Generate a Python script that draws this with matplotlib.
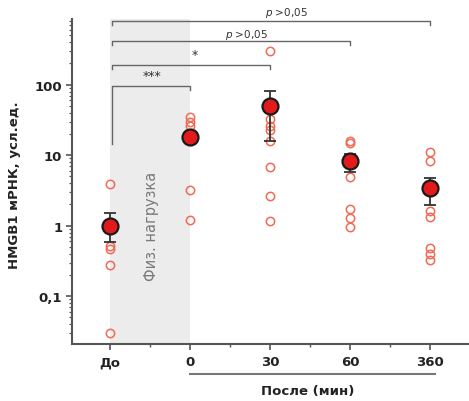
import matplotlib
matplotlib.use("Agg")
import matplotlib.pyplot as plt
from matplotlib.ticker import FixedLocator, NullFormatter, LogLocator

plt.rcParams['font.family'] = ['DejaVu Sans']

# Group labels and positions on the x axis
groups = ["До", "0", "30", "60", "360"]
positions = [0, 1, 2, 3, 4]

# Individual measurements per group
points_do = [3.9, 0.52, 0.46, 0.28, 0.0296]
points_0 = [34.5, 29.3, 26.0, 18.0, 3.16, 1.19]
points_30 = [296, 32.6, 26.0, 23.0, 16.0, 6.7, 2.6, 1.18]
points_60 = [14.9, 15.8, 8.0, 4.86, 1.73, 1.27, 0.97]
points_360 = [11.2, 8.36, 1.6, 1.35, 0.48, 0.40, 0.33]
all_points = [points_do, points_0, points_30, points_60, points_360]

# Group means with lower / upper error limits
means = [1.0, 17.9, 49.4, 8.2, 3.39]
err_low = [0.58, 15.5, 16.0, 5.83, 1.97]
err_high = [1.51, 20.5, 82.0, 10.4, 4.7]

# Comparisons: (start group, end group, bracket level, label)
comparisons = [
    (0, 4, 809, "p >0,05"),
    (0, 3, 413, "p >0,05"),
    (0, 2, 192, "*"),
    (0, 1, 95, "***"),
]

fig = plt.figure(figsize=(4.69, 4.02), dpi=100)
ax = fig.add_axes([72 / 469, 1 - 345 / 402, 1 - 72 / 469, 325 / 402])

ax.set_yscale("log")
ax.set_xlim(-0.475, 4.4875)
ax.set_ylim(0.021, 855)

# Exercise period shading
ax.axvspan(0, 1, color="#ececec", zorder=0, lw=0)
ax.text(0.52, 1.0, "Физ. нагрузка", rotation=90, ha="center", va="center",
        fontsize=10.5, color="#7a7a7a", zorder=1)

# Individual points
for pos, pts in zip(positions, all_points):
    ax.plot([pos] * len(pts), pts, linestyle="none", marker="o", ms=6,
            mfc="none", mec="#f26a55", mew=1.1, zorder=2)

# Means with error bars
lower = [m - l for m, l in zip(means, err_low)]
upper = [h - m for m, h in zip(means, err_high)]
ax.errorbar(positions, means, yerr=[lower, upper], fmt="none",
            ecolor="#333333", elinewidth=1.3, capsize=4.5, capthick=1.3, zorder=3)
ax.plot(positions, means, linestyle="none", marker="o", ms=11.5,
        mfc="#e31a1c", mec="#1a1a1a", mew=1.6, zorder=4)

# Significance brackets
leg = 0.88
for x0, x1, lvl, label in comparisons:
    left_end = lvl * leg if label != "***" else 14.5
    ax.plot([x0 + 0.03, x0 + 0.03, x1, x1], [left_end, lvl, lvl, lvl * leg],
            color="#666666", lw=1.0, clip_on=False, zorder=5)
for (x, y, txt, fs) in [(2.21, 1075, "$p$ >0,05", 7.5),
                        (1.71, 525, "$p$ >0,05", 7.5),
                        (1.06, 270, "*", 9),
                        (0.525, 135, "***", 9)]:
    ax.text(x, y, txt, ha="center", va="center", fontsize=fs,
            color="#333333", clip_on=False)

# Axes styling
for side in ["top", "right"]:
    ax.spines[side].set_visible(False)
for side in ["left", "bottom"]:
    ax.spines[side].set_color("#555555")
    ax.spines[side].set_linewidth(1.5)

ax.set_xticks(positions)
ax.set_xticklabels(groups, fontsize=9.5, fontweight="bold", color="#222222")
ax.xaxis.set_minor_locator(FixedLocator([-0.5, 0.5, 1.5, 2.5, 3.5]))
ax.tick_params(axis="x", which="major", length=4, width=1.2, color="#555555", pad=4)
ax.tick_params(axis="x", which="minor", length=2.5, width=1.0, color="#555555")

ax.set_yticks([0.1, 1, 10, 100])
ax.set_yticklabels(["0,1", "1", "10", "100"], fontsize=9.5, fontweight="bold",
                   color="#222222")
ax.yaxis.set_minor_locator(LogLocator(base=10, subs=range(2, 10)))
ax.yaxis.set_minor_formatter(NullFormatter())
ax.tick_params(axis="y", which="major", length=4, width=1.2, color="#555555", pad=3)
ax.tick_params(axis="y", which="minor", length=2.5, width=0.9, color="#555555")

fig.text(15 / 469, 1 - 185 / 402, "HMGB1 мРНК, усл.ед.", rotation=90,
         ha="center", va="center", fontsize=9.5, fontweight="bold", color="#222222")

# "After" span under the time points
fig.add_artist(plt.Line2D([190 / 469, 435 / 469], [1 - 375 / 402, 1 - 375 / 402],
                          color="#777777", lw=1.5))
fig.text(308 / 469, 1 - 392 / 402, "После (мин)", ha="center", va="center",
         fontsize=9.5, fontweight="bold", color="#222222")

fig.savefig("out.png", dpi=100)
